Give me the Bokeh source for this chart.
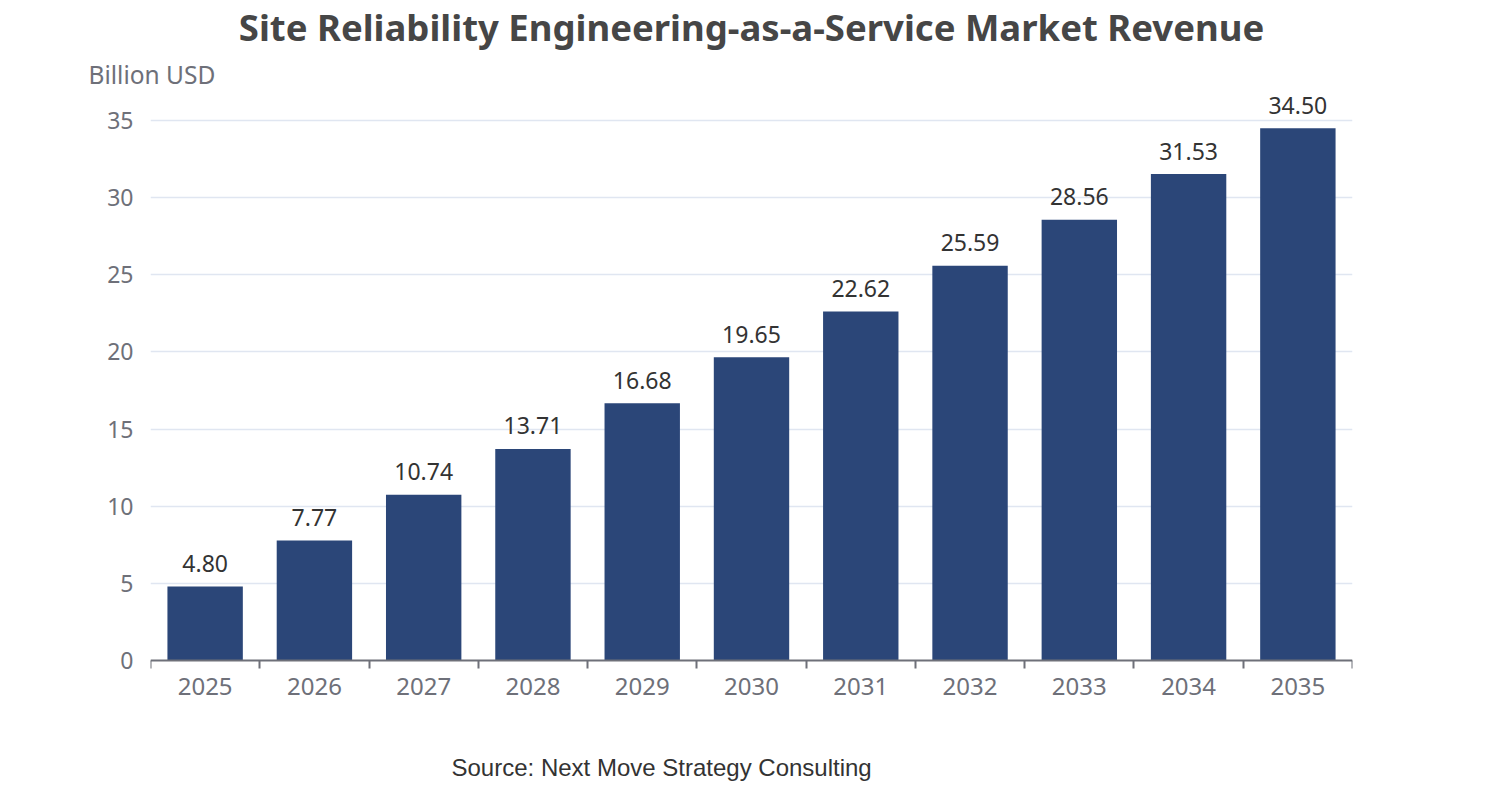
import numpy as np
from bokeh.plotting import figure
from bokeh.models import Range1d, FixedTicker, ColumnDataSource, LabelSet, Label, Title
from bokeh.core.properties import value
from bokeh.embed import file_html
from bokeh.resources import INLINE

years = ["2025", "2026", "2027", "2028", "2029", "2030", "2031", "2032", "2033", "2034", "2035"]
revenue = [4.80, 7.77, 10.74, 13.71, 16.68, 19.65, 22.62, 25.59, 28.56, 31.53, 34.50]
y_ticks = [0, 5, 10, 15, 20, 25, 30, 35]

title_text = "Site Reliability Engineering-as-a-Service Market Revenue"
y_label = "Billion USD"
source_text = "Source: Next Move Strategy Consulting"

FONT = "Noto Sans"
n = len(years)
centers = list(np.arange(n) + 0.5)
bounds = list(np.arange(n + 1).astype(float))

p = figure(width=1486, height=784, output_backend="svg", toolbar_location=None,
           x_range=Range1d(0, n), y_range=Range1d(-8.037, 36.815),
           min_border_left=150, min_border_right=134, min_border_top=0, min_border_bottom=0)
p.outline_line_color = None
p.background_fill_color = "white"
p.border_fill_color = "white"

p.title.text = title_text
p.title.align = "center"
p.title.vertical_align = "top"
p.title.text_font = FONT
p.title.text_font_size = "36.5px"
p.title.text_font_style = "bold"
p.title.text_color = "#464646"
p.title.standoff = 2

p.add_layout(Title(text=y_label, align="left", offset=-62, standoff=3, text_font=FONT,
                   text_font_size="24.5px", text_font_style="normal", text_color="#6e7079"), "above")

src = ColumnDataSource(dict(x=centers, top=revenue, lbl=[f"{v:.2f}" for v in revenue]))
p.vbar(x="x", top="top", bottom=0, width=0.69, source=src, fill_color="#2b4678", line_color=None)

labels = LabelSet(x="x", y="top", text="lbl", source=src, text_align="center", text_baseline="middle",
                  y_offset=23, text_font=value(FONT), text_font_size="23px", text_color="#333333")
p.add_layout(labels)

# x axis, drawn at y = 0 inside the frame
xa = p.xaxis[0]
xa.fixed_location = 0
xa.ticker = FixedTicker(ticks=centers, minor_ticks=bounds)
xa.major_label_overrides = {c: y for c, y in zip(centers, years)}
xa.major_tick_line_color = None
xa.major_tick_out = 0
xa.major_tick_in = 0
xa.minor_tick_out = 8
xa.minor_tick_in = 0
xa.minor_tick_line_color = "#6e7079"
xa.minor_tick_line_width = 2
xa.axis_line_color = "#6e7079"
xa.axis_line_width = 2
xa.major_label_text_font = FONT
xa.major_label_text_font_size = "24px"
xa.major_label_text_color = "#6e7079"
xa.major_label_standoff = 9

# y axis
ya = p.yaxis[0]
ya.ticker = FixedTicker(ticks=y_ticks)
ya.axis_line_color = None
ya.major_tick_line_color = None
ya.minor_tick_line_color = None
ya.major_label_text_font = FONT
ya.major_label_text_font_size = "23px"
ya.major_label_text_color = "#6e7079"
ya.major_label_standoff = 11

p.xgrid.grid_line_color = None
p.ygrid.grid_line_color = "#e0e6f1"
p.ygrid.grid_line_width = 1.5
p.ygrid.ticker = FixedTicker(ticks=y_ticks[1:])

p.add_layout(Label(x=0, y=0, x_offset=301, y_offset=-107, text=source_text, text_align="left",
                   text_baseline="middle", text_font="Liberation Sans", text_font_size="24px",
                   text_color="#333333"))

open("out.html", "w").write(file_html(p, INLINE))
